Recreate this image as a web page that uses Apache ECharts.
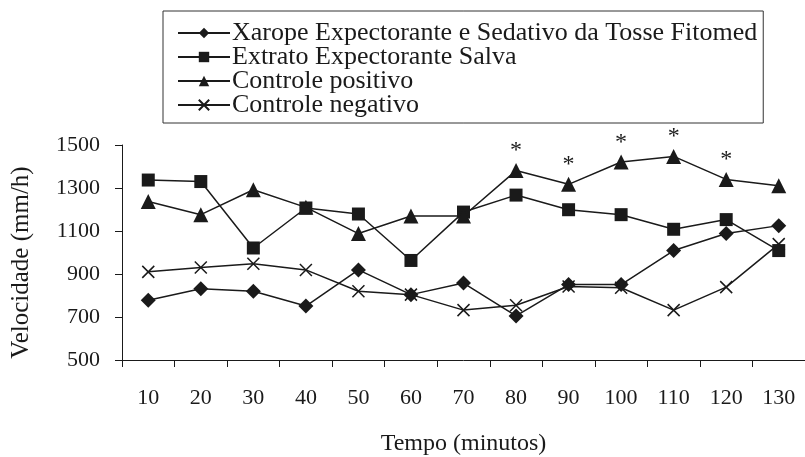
<!doctype html>
<html lang="pt">
<head>
<meta charset="UTF-8">
<title>Velocidade</title>
<script src="https://cdn.jsdelivr.net/npm/echarts@6/dist/echarts.min.js"></script>
<style>
  html, body { margin: 0; padding: 0; background: #fff; }
  #chart { width: 805px; height: 457px; }
</style>
</head>
<body>
<div id="chart"></div>
<script type="text/javascript">
    // dados
    var tempo = ['10', '20', '30', '40', '50', '60', '70', '80', '90', '100', '110', '120', '130'];
    var xarope = [778, 831, 820, 751, 919, 804, 858, 705, 851, 851, 1009, 1088, 1125];
    var extrato = [1337, 1330, 1021, 1207, 1179, 963, 1188, 1267, 1199, 1176, 1108, 1153, 1009];
    var positivo = [1237, 1176, 1292, 1210, 1088, 1170, 1170, 1381, 1317, 1421, 1447, 1340, 1310];
    var negativo = [910, 930, 948, 919, 820, 804, 732, 755, 842, 836, 732, 839, 1039];
    var significativo = [0, 0, 0, 0, 0, 0, 0, 1, 1, 1, 1, 1, 0]; // marcados com *

    var nomes = [
        'Xarope Expectorante e Sedativo da Tosse Fitomed',
        'Extrato Expectorante Salva',
        'Controle positivo',
        'Controle negativo'
    ];

    var preto = '#1a1a1a';
    var fonte = '"Liberation Serif", "Times New Roman", serif';

    // pontos do controle positivo com asterisco
    var positivoDados = [];
    for (var i = 0; i < positivo.length; i++) {
        positivoDados.push({
            value: positivo[i],
            label: { show: significativo[i] == 1 }
        });
    }

    function serie(nome, dados, simbolo, tamanho) {
        return {
            name: nome,
            type: 'line',
            data: dados,
            symbol: simbolo,
            symbolSize: tamanho,
            lineStyle: { color: preto, width: 1.5 },
            itemStyle: { color: preto, borderColor: preto, borderWidth: 0 },
            emphasis: { disabled: true },
            z: 2
        };
    }

    var s1 = serie(nomes[0], xarope, 'diamond', 15);
    var s2 = serie(nomes[1], extrato, 'rect', 13);
    var s3 = serie(nomes[2], positivoDados, 'triangle', 15);
    s3.label = {
        show: false,
        position: 'top',
        distance: 0,
        formatter: '*',
        color: preto,
        fontFamily: fonte,
        fontSize: 24
    };
    var s4 = serie(nomes[3], negativo, 'path://M0,0L10,10M10,0L0,10', 12);
    s4.itemStyle = { color: 'none', borderColor: preto, borderWidth: 1.5 };

    var myChart = echarts.init(document.getElementById('chart'));
    myChart.setOption({
        animation: false,
        textStyle: { fontFamily: fonte },
        legend: {
            orient: 'vertical',
            left: 163,
            top: 11,
            data: nomes,
            itemWidth: 52,
            itemHeight: 13,
            itemGap: -2,
            padding: [9, 6, 5, 14],
            borderColor: '#333',
            borderWidth: 1,
            textStyle: { color: preto, fontFamily: fonte, fontSize: 26, padding: [0, 0, 0, -3] }
        },
        grid: {
            left: 122,
            right: -8,
            top: 145,
            bottom: 93
        },
        xAxis: {
            type: 'category',
            data: tempo,
            boundaryGap: true,
            name: 'Tempo (minutos)',
            nameLocation: 'middle',
            nameGap: 72,
            nameTextStyle: { color: preto, fontFamily: fonte, fontSize: 24 },
            axisLine: { lineStyle: { color: preto, width: 1 } },
            axisTick: { show: true, length: 7, lineStyle: { color: preto } },
            axisLabel: { color: preto, fontFamily: fonte, fontSize: 22, margin: 27 },
            splitLine: { show: false }
        },
        yAxis: {
            type: 'value',
            min: 500,
            max: 1500,
            interval: 200,
            name: 'Velocidade (mm/h)',
            nameLocation: 'middle',
            nameGap: 88,
            nameTextStyle: { color: preto, fontFamily: fonte, fontSize: 25, padding: [0, 20, 0, 0] },
            axisLine: { show: true, lineStyle: { color: preto, width: 1 } },
            axisTick: { show: true, length: 7, lineStyle: { color: preto } },
            axisLabel: {
                color: preto, fontFamily: fonte, fontSize: 22, margin: 22,
                formatter: function (v) { return String(v); }
            },
            splitLine: { show: false }
        },
        series: [s1, s2, s3, s4]
    });
</script>
</body>
</html>
